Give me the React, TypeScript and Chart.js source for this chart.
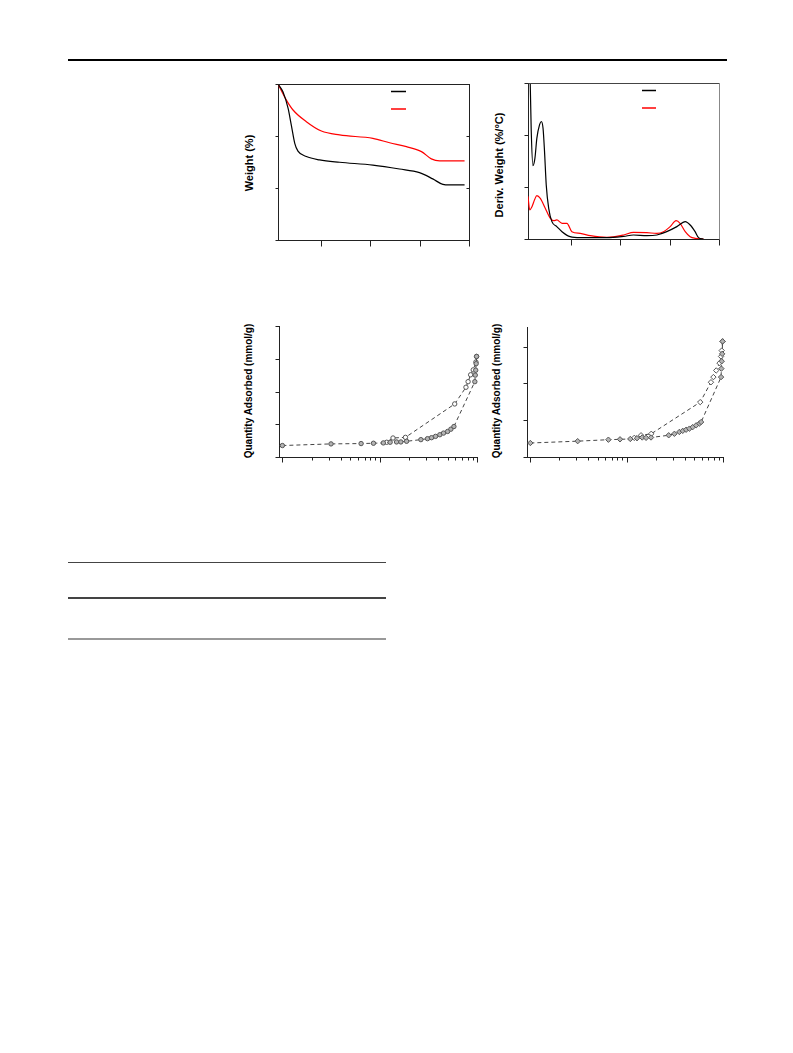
import React, { useEffect, useRef } from "react";
import { Chart, registerables } from "chart.js";
Chart.register(...registerables);

// ---------- TGA (weight %) ----------
const tgaTempBlack = [25, 45, 66, 79, 93, 106, 140, 194, 275, 410, 518, 599, 653, 694, 721, 782];
const tgaWeightBlack = [100, 97, 90.6, 84.2, 77.2, 74.2, 72.1, 70.8, 69.9, 68.8, 67.3, 65.9, 63.5, 61.4, 61.2, 61.2];
const tgaTempRed = [25, 59, 86, 140, 201, 275, 410, 478, 546, 607, 647, 681, 782];
const tgaWeightRed = [100, 93.8, 90, 85.5, 81.9, 80.4, 79.1, 77.4, 75.9, 74, 71.2, 70.4, 70.4];

// ---------- DTG (deriv. weight %/°C) ----------
const dtgTempBlack = [25, 30, 34, 38, 45, 53, 61, 72, 79, 86, 92, 99, 109, 122, 142, 163, 196, 237, 345, 413, 453, 507, 548, 588, 629, 663, 683, 703, 717, 737];
const dtgBlack = [6.5, 4.2, 3.0, 2.1, 1.41, 1.55, 1.94, 2.2, 2.26, 2.13, 1.69, 1.04, 0.59, 0.334, 0.238, 0.141, 0.045, 0.026, 0.026, 0.051, 0.077, 0.064, 0.077, 0.141, 0.238, 0.334, 0.27, 0.141, 0.026, 0];
const dtgTempRed = [25, 32, 41, 52, 61, 75, 95, 115, 129, 142, 163, 183, 203, 237, 278, 345, 413, 453, 507, 548, 575, 602, 626, 642, 663, 683, 703, 737];
const dtgRed = [0.82, 0.56, 0.62, 0.76, 0.835, 0.78, 0.59, 0.4, 0.353, 0.366, 0.302, 0.302, 0.141, 0.109, 0.064, 0.032, 0.077, 0.128, 0.122, 0.109, 0.141, 0.238, 0.353, 0.302, 0.141, 0.045, 0.013, 0];

// ---------- Isotherm A (circles) ----------
const isoAadsP = [0.01, 0.0316, 0.0644, 0.0863, 0.109, 0.128, 0.149, 0.165, 0.189, 0.265, 0.31, 0.341, 0.375, 0.415, 0.453, 0.499, 0.539, 0.579, 0.95, 0.96, 0.97, 0.98, 0.99];
const isoAadsQ = [0.35, 0.4, 0.41, 0.42, 0.43, 0.45, 0.46, 0.46, 0.48, 0.53, 0.56, 0.59, 0.63, 0.68, 0.73, 0.78, 0.85, 0.93, 2.3, 2.5, 2.65, 2.85, 3.07];
const isoAdesP = [0.99, 0.975, 0.915, 0.86, 0.81, 0.77, 0.59, 0.184, 0.137, 0.118];
const isoAdesQ = [3.07, 2.9, 2.66, 2.51, 2.3, 2.13, 1.62, 0.6, 0.58, 0.45];

// ---------- Isotherm B (diamonds) ----------
const isoBadsP = [0.01, 0.031, 0.0646, 0.0853, 0.109, 0.128, 0.145, 0.159, 0.179, 0.273, 0.313, 0.352, 0.382, 0.414, 0.448, 0.484, 0.526, 0.569, 0.593, 0.955, 0.962, 0.97, 0.98, 0.99];
const isoBadsQ = [0.38, 0.43, 0.47, 0.48, 0.49, 0.51, 0.53, 0.52, 0.53, 0.59, 0.63, 0.68, 0.71, 0.74, 0.77, 0.81, 0.86, 0.91, 0.95, 2.17, 2.4, 2.6, 2.8, 3.14];
const isoBdesP = [0.99, 0.97, 0.955, 0.92, 0.85, 0.795, 0.75, 0.58, 0.18, 0.141, 0.12];
const isoBdesQ = [3.14, 2.89, 2.73, 2.55, 2.35, 2.17, 2.03, 1.49, 0.63, 0.59, 0.52];

// ---------- ticks ----------
const tempTicks = [200, 400, 600, 800];
const weightTicks = [40, 60, 80, 100];
const weightInnerTicks = [60, 80];
const derivTicks = [0, 1, 2, 3];
const qTicksA = [0, 1, 2, 3, 4];
const qTicksB = [0, 1, 2, 3];
const pMajor = [0.01, 0.1, 1];
const pMinor = [0.02, 0.03, 0.04, 0.05, 0.06, 0.07, 0.08, 0.09, 0.2, 0.3, 0.4, 0.5, 0.6, 0.7, 0.8, 0.9];

const PAD = 10;

type TickSpec = { axis: string; values: number[]; side: "left" | "right" | "bottom"; len: number; inward?: boolean };
type FrameSpec = {
  ticks: TickSpec[];
  top?: string;
  right?: string;
  legend?: { color: string; dy: number }[];
  legendX?: [number, number];
};

function framePlugin(spec: FrameSpec) {
  return {
    id: "frame",
    afterDraw(chart: any) {
      const { ctx, chartArea: a } = chart;
      ctx.save();
      ctx.lineWidth = 1;
      if (spec.top) {
        ctx.strokeStyle = spec.top;
        ctx.beginPath();
        ctx.moveTo(a.left, a.top + 0.5);
        ctx.lineTo(a.right + 1, a.top + 0.5);
        ctx.stroke();
      }
      if (spec.right) {
        ctx.strokeStyle = spec.right;
        ctx.beginPath();
        ctx.moveTo(a.right + 0.5, a.top);
        ctx.lineTo(a.right + 0.5, a.bottom + 1);
        ctx.stroke();
      }
      ctx.strokeStyle = "#222";
      for (const t of spec.ticks) {
        const scale = chart.scales[t.axis];
        for (const v of t.values) {
          const p = Math.round(scale.getPixelForValue(v)) + 0.5;
          ctx.beginPath();
          if (t.side === "left") {
            ctx.moveTo(a.left + 0.5, p);
            ctx.lineTo(a.left + 0.5 + (t.inward ? t.len : -t.len), p);
          } else if (t.side === "right") {
            ctx.moveTo(a.right + 0.5, p);
            ctx.lineTo(a.right + 0.5 + (t.inward ? -t.len : t.len), p);
          } else {
            ctx.moveTo(p, a.bottom + 0.5);
            ctx.lineTo(p, a.bottom + 0.5 + (t.inward ? -t.len : t.len));
          }
          ctx.stroke();
        }
      }
      if (spec.legend && spec.legendX) {
        ctx.lineWidth = 1.5;
        for (const l of spec.legend) {
          ctx.strokeStyle = l.color;
          ctx.beginPath();
          ctx.moveTo(a.left + spec.legendX[0], a.top + l.dy);
          ctx.lineTo(a.left + spec.legendX[1], a.top + l.dy);
          ctx.stroke();
        }
      }
      ctx.restore();
    },
  };
}

const axisBase = (extra: any) => ({
  display: true,
  ticks: { display: false },
  grid: { display: false, drawTicks: false },
  border: { display: true, color: "#222", width: 1 },
  title: { display: false },
  ...extra,
});

function zip(xs: number[], ys: number[]) {
  return xs.map((x, i) => ({ x, y: ys[i] }));
}

type Area = { l: number; t: number; r: number; b: number };

function ChartCanvas({ area, make }: { area: Area; make: () => any }) {
  const ref = useRef<HTMLCanvasElement>(null);
  const w = area.r - area.l + 2 * PAD;
  const h = area.b - area.t + 2 * PAD;
  useEffect(() => {
    const c = new Chart(ref.current as HTMLCanvasElement, make());
    return () => c.destroy();
  }, []);
  return (
    <canvas
      ref={ref}
      width={w}
      height={h}
      style={{ position: "absolute", left: area.l - PAD, top: area.t - PAD, width: w, height: h }}
    />
  );
}

const baseOptions = (scales: any) => ({
  responsive: false,
  maintainAspectRatio: false,
  animation: false,
  layout: { padding: PAD, autoPadding: false },
  plugins: { legend: { display: false }, tooltip: { enabled: false } },
  scales,
});

const tgaConfig = () => ({
  type: "line",
  data: {
    datasets: [
      { data: zip(tgaTempBlack, tgaWeightBlack), borderColor: "#000", borderWidth: 1.2, pointRadius: 0, cubicInterpolationMode: "monotone" },
      { data: zip(tgaTempRed, tgaWeightRed), borderColor: "#ff0000", borderWidth: 1.2, pointRadius: 0, cubicInterpolationMode: "monotone" },
    ],
  },
  options: baseOptions({
    x: axisBase({ type: "linear", min: 25, max: 800 }),
    y: axisBase({ type: "linear", min: 40, max: 100 }),
  }),
  plugins: [
    framePlugin({
      top: "#222",
      right: "#222",
      ticks: [
        { axis: "y", values: weightTicks, side: "left", len: 3 },
        { axis: "y", values: weightInnerTicks, side: "right", len: 3, inward: true },
        { axis: "x", values: tempTicks, side: "bottom", len: 6 },
      ],
      legendX: [113, 128],
      legend: [
        { color: "#000", dy: 7.5 },
        { color: "#ff0000", dy: 25 },
      ],
    }),
  ],
});

const dtgConfig = () => ({
  type: "line",
  data: {
    datasets: [
      { data: zip(dtgTempBlack, dtgBlack), borderColor: "#000", borderWidth: 1.2, pointRadius: 0, cubicInterpolationMode: "monotone" },
      { data: zip(dtgTempRed, dtgRed), borderColor: "#ff0000", borderWidth: 1.2, pointRadius: 0, cubicInterpolationMode: "monotone" },
    ],
  },
  options: baseOptions({
    x: axisBase({ type: "linear", min: 25, max: 800 }),
    y: axisBase({ type: "linear", min: 0, max: 3 }),
  }),
  plugins: [
    framePlugin({
      top: "#444",
      right: "#888",
      ticks: [
        { axis: "y", values: derivTicks, side: "left", len: 4 },
        { axis: "x", values: tempTicks, side: "bottom", len: 6 },
      ],
      legendX: [114, 128],
      legend: [
        { color: "#000", dy: 7.5 },
        { color: "#ff0000", dy: 25 },
      ],
    }),
  ],
});

const isoConfig = (
  adsP: number[], adsQ: number[], desP: number[], desQ: number[],
  style: string, radius: number, yMax: number, yTicks: number[]
) => () => ({
  type: "line",
  data: {
    datasets: [
      {
        data: zip(adsP, adsQ), borderColor: "#444", borderWidth: 1, borderDash: [4, 3], tension: 0,
        pointStyle: style, pointRadius: radius, pointBorderWidth: 1, pointBorderColor: "#555", pointBackgroundColor: "#b4b4b4",
      },
      {
        data: zip(desP, desQ), borderColor: "#444", borderWidth: 1, borderDash: [4, 3], tension: 0,
        pointStyle: style, pointRadius: radius, pointBorderWidth: 1, pointBorderColor: "#555", pointBackgroundColor: "#ffffff",
      },
    ],
  },
  options: {
    ...baseOptions({
      x: axisBase({ type: "logarithmic", min: 0.00923, max: 1 }),
      y: axisBase({ type: "linear", min: 0, max: yMax }),
    }),
    clip: false,
  },
  plugins: [
    framePlugin({
      ticks: [
        { axis: "y", values: yTicks, side: "left", len: 4 },
        { axis: "x", values: pMajor, side: "bottom", len: 5 },
        { axis: "x", values: pMinor, side: "bottom", len: 3 },
      ],
    }),
  ],
});

const titleStyle = (x: number, y: number, size: number): React.CSSProperties => ({
  position: "absolute",
  left: x,
  top: y,
  transform: "translate(-50%, -50%) rotate(-90deg)",
  whiteSpace: "nowrap",
  fontFamily: "'Liberation Sans', Arial, sans-serif",
  fontWeight: "bold",
  fontSize: size,
  color: "#000",
  lineHeight: 1,
});

const rule = (l: number, t: number, w: number, h: number, c: string): React.CSSProperties => ({
  position: "absolute", left: l, top: t, width: w, height: h, background: c,
});

export default function App() {
  return (
    <div style={{ position: "absolute", left: 0, top: 0, width: 793, height: 1053, overflow: "hidden", background: "#fff" }}>
      <div style={rule(68, 59, 659, 2, "#000")} />

      <ChartCanvas area={{ l: 278, t: 84, r: 469, b: 240 }} make={tgaConfig} />
      <div style={titleStyle(248.5, 163, 11)}>Weight (%)</div>

      <ChartCanvas area={{ l: 528, t: 83, r: 719, b: 239 }} make={dtgConfig} />
      <div style={titleStyle(498.5, 165, 11)}>Deriv. Weight (%/°C)</div>

      <ChartCanvas
        area={{ l: 279, t: 326, r: 477, b: 457 }}
        make={isoConfig(isoAadsP, isoAadsQ, isoAdesP, isoAdesQ, "circle", 2.2, 4, qTicksA)}
      />
      <div style={titleStyle(248.5, 391, 10)}>Quantity Adsorbed (mmol/g)</div>

      <ChartCanvas
        area={{ l: 527, t: 327, r: 723, b: 457 }}
        make={isoConfig(isoBadsP, isoBadsQ, isoBdesP, isoBdesQ, "rectRot", 2.7, 3.53, qTicksB)}
      />
      <div style={titleStyle(497, 391, 10)}>Quantity Adsorbed (mmol/g)</div>

      <div style={rule(68, 562, 318, 1, "#444")} />
      <div style={rule(68, 597, 318, 2, "#444")} />
      <div style={rule(68, 638, 318, 2, "#999")} />
    </div>
  );
}
